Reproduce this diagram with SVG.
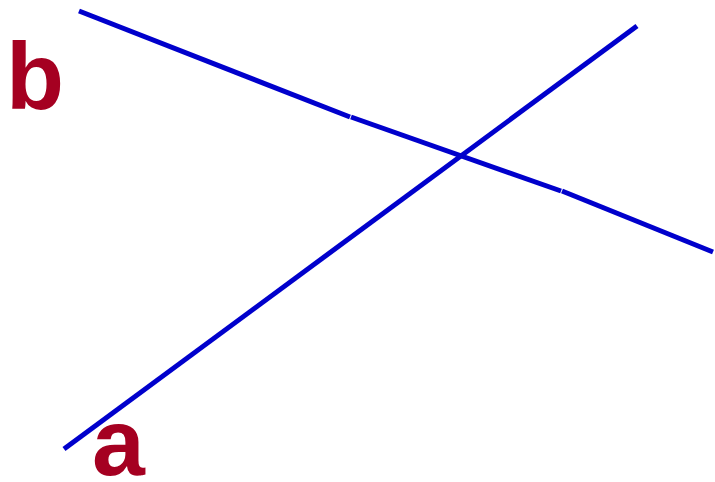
<svg xmlns="http://www.w3.org/2000/svg" width="715" height="482" viewBox="0 0 715 482">
<style>
.ln{stroke:#0000cc;stroke-width:5;fill:none}
.lbl{font-family:"Liberation Sans",Arial,sans-serif;font-weight:bold;font-size:95px;fill:#a50021}
</style>
<rect width="715" height="482" fill="#fff"/>
<g id="connectors">
<line class="ln" x1="64" y1="449" x2="637" y2="26"/>
<line class="ln" x1="79" y1="11" x2="350" y2="117"/>
<line class="ln" x1="351" y1="117" x2="561" y2="191"/>
<line class="ln" x1="562" y1="191" x2="713" y2="252"/>
</g>
<g id="label-b"><text class="lbl" x="6" y="109">b</text></g>
<g id="label-a"><text class="lbl" x="92" y="475">a</text></g>
</svg>
